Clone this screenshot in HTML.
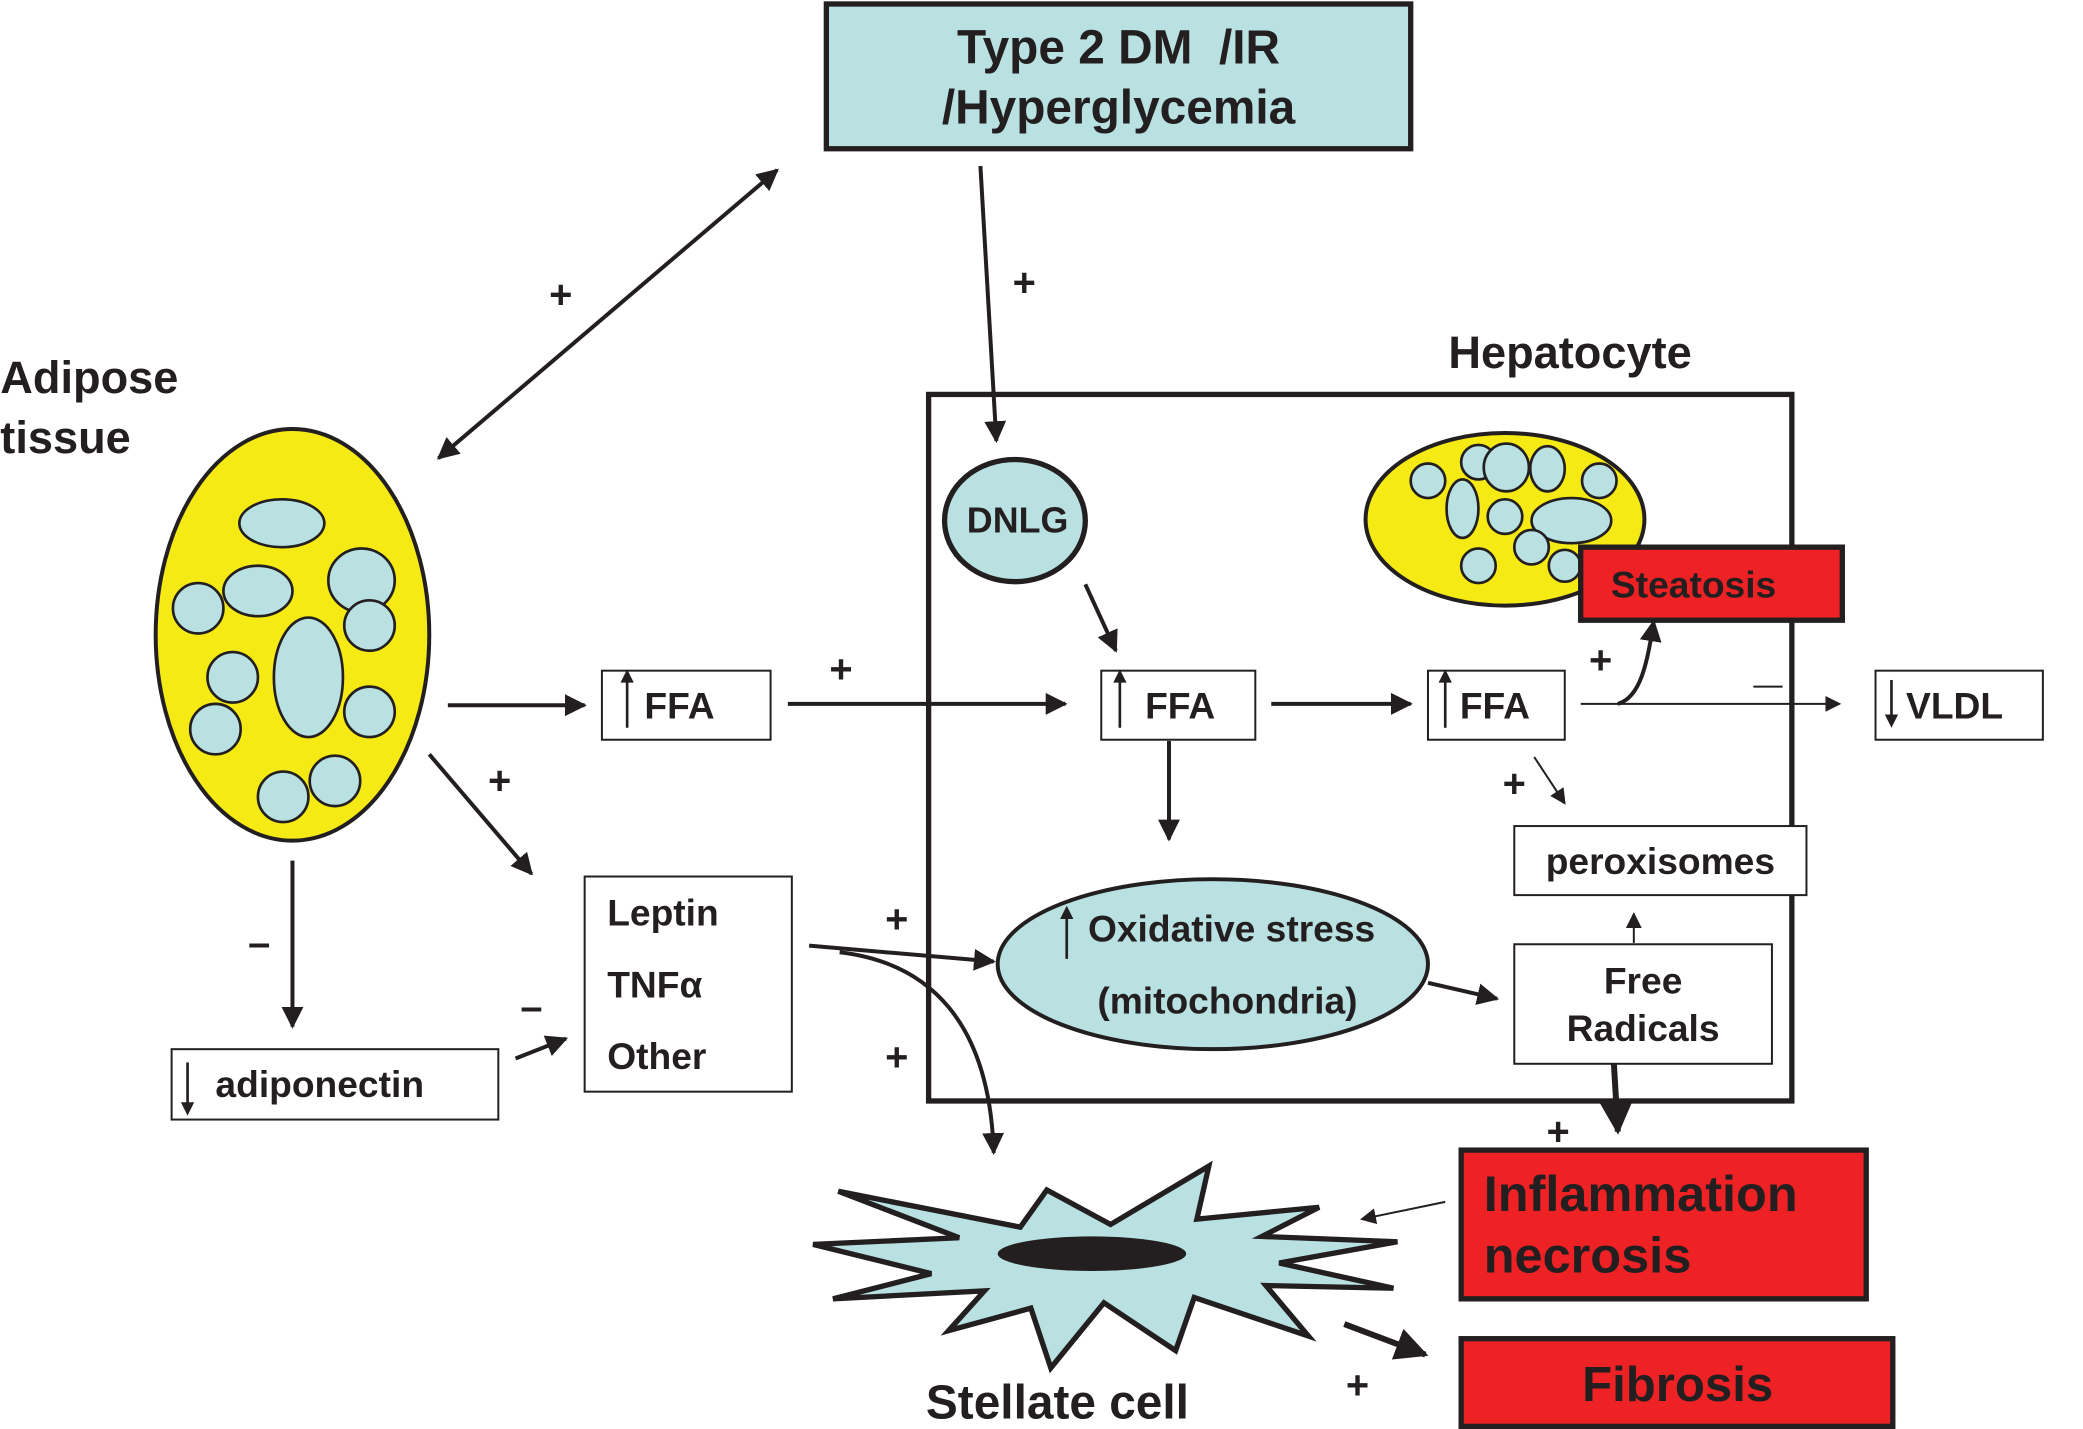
<!DOCTYPE html>
<html><head><meta charset="utf-8"><style>
html,body{margin:0;padding:0;background:#fff;}
svg{display:block;}
text{font-family:"Liberation Sans",sans-serif;font-weight:bold;fill:#231f20;}
</style></head><body>
<svg width="2083" height="1429" viewBox="0 0 1568 1076" xmlns="http://www.w3.org/2000/svg">
<defs>
<marker id="a" viewBox="0 0 10 10" refX="9" refY="5" markerWidth="5.5" markerHeight="5.5" orient="auto-start-reverse" markerUnits="strokeWidth"><path d="M0,0L10,5L0,10z" fill="#231f20"/></marker>
<marker id="t" viewBox="0 0 10 10" refX="9" refY="5" markerWidth="8" markerHeight="8" orient="auto" markerUnits="strokeWidth"><path d="M0,0L10,5L0,10z" fill="#231f20"/></marker>
</defs>
<g stroke="#231f20" fill="none">
<rect x="622" y="3" width="440" height="109" fill="#b9e1e2" stroke-width="4"/>
<rect x="699" y="297" width="650" height="532" stroke-width="4"/>
<ellipse cx="220" cy="478" rx="103" ry="155" fill="#f5ea14" stroke-width="3"/>
<g fill="#b9e1e2" stroke-width="2">
<ellipse cx="212" cy="394" rx="32" ry="18"/><ellipse cx="194" cy="445" rx="26" ry="19"/>
<ellipse cx="272" cy="437" rx="25" ry="24"/><circle cx="149" cy="458" r="19"/>
<circle cx="278" cy="471" r="19"/><ellipse cx="232" cy="510" rx="26" ry="45"/>
<circle cx="175" cy="510" r="19"/><circle cx="162" cy="549" r="19"/>
<circle cx="278" cy="536" r="19"/><circle cx="213" cy="600" r="19"/><circle cx="252" cy="588" r="19"/>
</g>
<ellipse cx="1133" cy="391" rx="105" ry="65" fill="#f5ea14" stroke-width="3"/>
<g fill="#b9e1e2" stroke-width="2">
<circle cx="1075" cy="362" r="13"/><circle cx="1113" cy="348" r="13"/><ellipse cx="1134" cy="352" rx="17" ry="18"/>
<ellipse cx="1165" cy="353" rx="13" ry="17"/><circle cx="1204" cy="362" r="13"/><ellipse cx="1101" cy="383" rx="12" ry="22"/>
<circle cx="1133" cy="389" r="13"/><ellipse cx="1183" cy="392" rx="30" ry="17"/><circle cx="1153" cy="412" r="13"/>
<circle cx="1113" cy="426" r="13"/><circle cx="1178" cy="426" r="12"/>
</g>
<rect x="1190" y="412" width="197" height="55" fill="#ee2124" stroke-width="4"/>
<ellipse cx="764" cy="392" rx="53" ry="46" fill="#b9e1e2" stroke-width="4"/>
<g stroke-width="1.5" fill="#fff">
<rect x="453" y="505" width="127" height="52"/>
<rect x="829" y="505" width="116" height="52"/>
<rect x="1075" y="505" width="103" height="52"/>
<rect x="1412" y="505" width="126" height="52"/>
<rect x="440" y="660" width="156" height="162"/>
<rect x="129" y="790" width="246" height="53"/>
<rect x="1140" y="622" width="220" height="52"/>
<rect x="1140" y="711" width="194" height="90"/>
</g>
<ellipse cx="913" cy="726" rx="162" ry="64" fill="#b9e1e2" stroke-width="3"/>
<rect x="1100" y="866" width="305" height="112" fill="#ee2124" stroke-width="4"/>
<rect x="1100" y="1008" width="325" height="66" fill="#ee2124" stroke-width="4"/>
<polygon stroke-width="4" fill="#b9e1e2" points="631,897 768,924 788,896 836,922 910,878 901,918 993,909 950,931 1052,935 963,951 1049,970 953,968 985,1006 899,977 885,1017 831,981 791,1030 776,985 714,1002 741,972 627,978 701,959 612,937 722,932"/>
<ellipse cx="822" cy="944" rx="71" ry="13" fill="#231f20" stroke="none"/>
<g stroke-width="3">
<line x1="330" y1="345" x2="585" y2="128" marker-start="url(#a)" marker-end="url(#a)"/>
<line x1="738" y1="125" x2="750" y2="332" marker-end="url(#a)"/>
<line x1="337" y1="531" x2="440" y2="531" marker-end="url(#a)"/>
<line x1="593" y1="530" x2="802" y2="530" marker-end="url(#a)"/>
<line x1="817" y1="440" x2="840" y2="490" marker-end="url(#a)"/>
<line x1="957" y1="530" x2="1062" y2="530" marker-end="url(#a)"/>
<line x1="880" y1="558" x2="880" y2="632" marker-end="url(#a)"/>
<line x1="1075" y1="740" x2="1127" y2="752" marker-end="url(#a)"/>
<line x1="323" y1="568" x2="400" y2="658" marker-end="url(#a)"/>
<line x1="220" y1="648" x2="220" y2="773" marker-end="url(#a)"/>
<line x1="388" y1="797" x2="426" y2="782" marker-end="url(#a)"/>
<line x1="609" y1="712" x2="748" y2="724" marker-end="url(#a)"/>
<path d="M632,717 C700,725 745,770 748,868" marker-end="url(#a)"/>
<path d="M1218,530 C1235,525 1240,500 1245,468" marker-end="url(#a)"/>
</g>
<g stroke-width="4.5">
<line x1="1215" y1="801" x2="1218" y2="852" marker-end="url(#a)"/>
<line x1="1012" y1="997" x2="1073" y2="1020" marker-end="url(#a)"/>
</g>
<g stroke-width="1.5">
<line x1="1190" y1="530" x2="1385" y2="530" marker-end="url(#t)"/>
<line x1="1320" y1="517" x2="1342" y2="517"/>
<line x1="1155" y1="570" x2="1178" y2="605" marker-end="url(#t)"/>
<line x1="1230" y1="710" x2="1230" y2="688" marker-end="url(#t)"/>
<line x1="1088" y1="905" x2="1025" y2="918" marker-end="url(#t)"/>
</g>
<g stroke-width="2">
<line x1="472" y1="548" x2="472" y2="512"/><line x1="843" y1="548" x2="843" y2="512"/>
<line x1="1088" y1="548" x2="1088" y2="512"/><line x1="1424" y1="512" x2="1424" y2="540"/>
<line x1="141" y1="800" x2="141" y2="832"/><line x1="803" y1="722" x2="803" y2="690"/>
</g>
<g fill="#231f20" stroke="none">
<path d="M467,514 L472,504 L477,514z"/><path d="M838,514 L843,504 L848,514z"/>
<path d="M1083,514 L1088,504 L1093,514z"/><path d="M1419,538 L1424,548 L1429,538z"/>
<path d="M136,830 L141,840 L146,830z"/><path d="M798,692 L803,682 L808,692z"/>
</g>
</g>
<text x="842" y="48" font-size="36" text-anchor="middle" xml:space="preserve">Type 2 DM  /IR</text>
<text x="842" y="93" font-size="36" text-anchor="middle">/Hyperglycemia</text>
<text x="1182" y="277" font-size="34" text-anchor="middle">Hepatocyte</text>
<text x="0" y="296" font-size="34">Adipose</text>
<text x="0" y="341" font-size="34">tissue</text>
<text x="1275" y="450" font-size="28" text-anchor="middle">Steatosis</text>
<text x="766" y="401" font-size="27" text-anchor="middle">DNLG</text>
<text x="485" y="541" font-size="28">FFA</text>
<text x="862" y="541" font-size="28">FFA</text>
<text x="1099" y="541" font-size="28">FFA</text>
<text x="1435" y="541" font-size="28">VLDL</text>
<text x="457" y="697" font-size="28">Leptin</text>
<text x="457" y="751" font-size="28">TNFα</text>
<text x="457" y="805" font-size="28">Other</text>
<text x="162" y="826" font-size="28">adiponectin</text>
<text x="1250" y="658" font-size="28" text-anchor="middle">peroxisomes</text>
<text x="1237" y="748" font-size="28" text-anchor="middle">Free</text>
<text x="1237" y="784" font-size="28" text-anchor="middle">Radicals</text>
<text x="819" y="709" font-size="28">Oxidative stress</text>
<text x="924" y="763" font-size="28" text-anchor="middle">(mitochondria)</text>
<text x="1117" y="912" font-size="38">Inflammation</text>
<text x="1117" y="958" font-size="38">necrosis</text>
<text x="1263" y="1055" font-size="37" text-anchor="middle">Fibrosis</text>
<text x="796" y="1068" font-size="36" text-anchor="middle">Stellate cell</text>
<g font-size="30" text-anchor="middle">
<text x="422" y="232">+</text><text x="771" y="223">+</text><text x="633" y="514">+</text>
<text x="1205" y="507">+</text><text x="1140" y="600">+</text><text x="1173" y="862">+</text>
<text x="1022" y="1053">+</text><text x="376" y="598">+</text><text x="675" y="702">+</text>
<text x="675" y="806">+</text><text x="195" y="720">–</text><text x="400" y="768">–</text>
</g>
</svg>
</body></html>
